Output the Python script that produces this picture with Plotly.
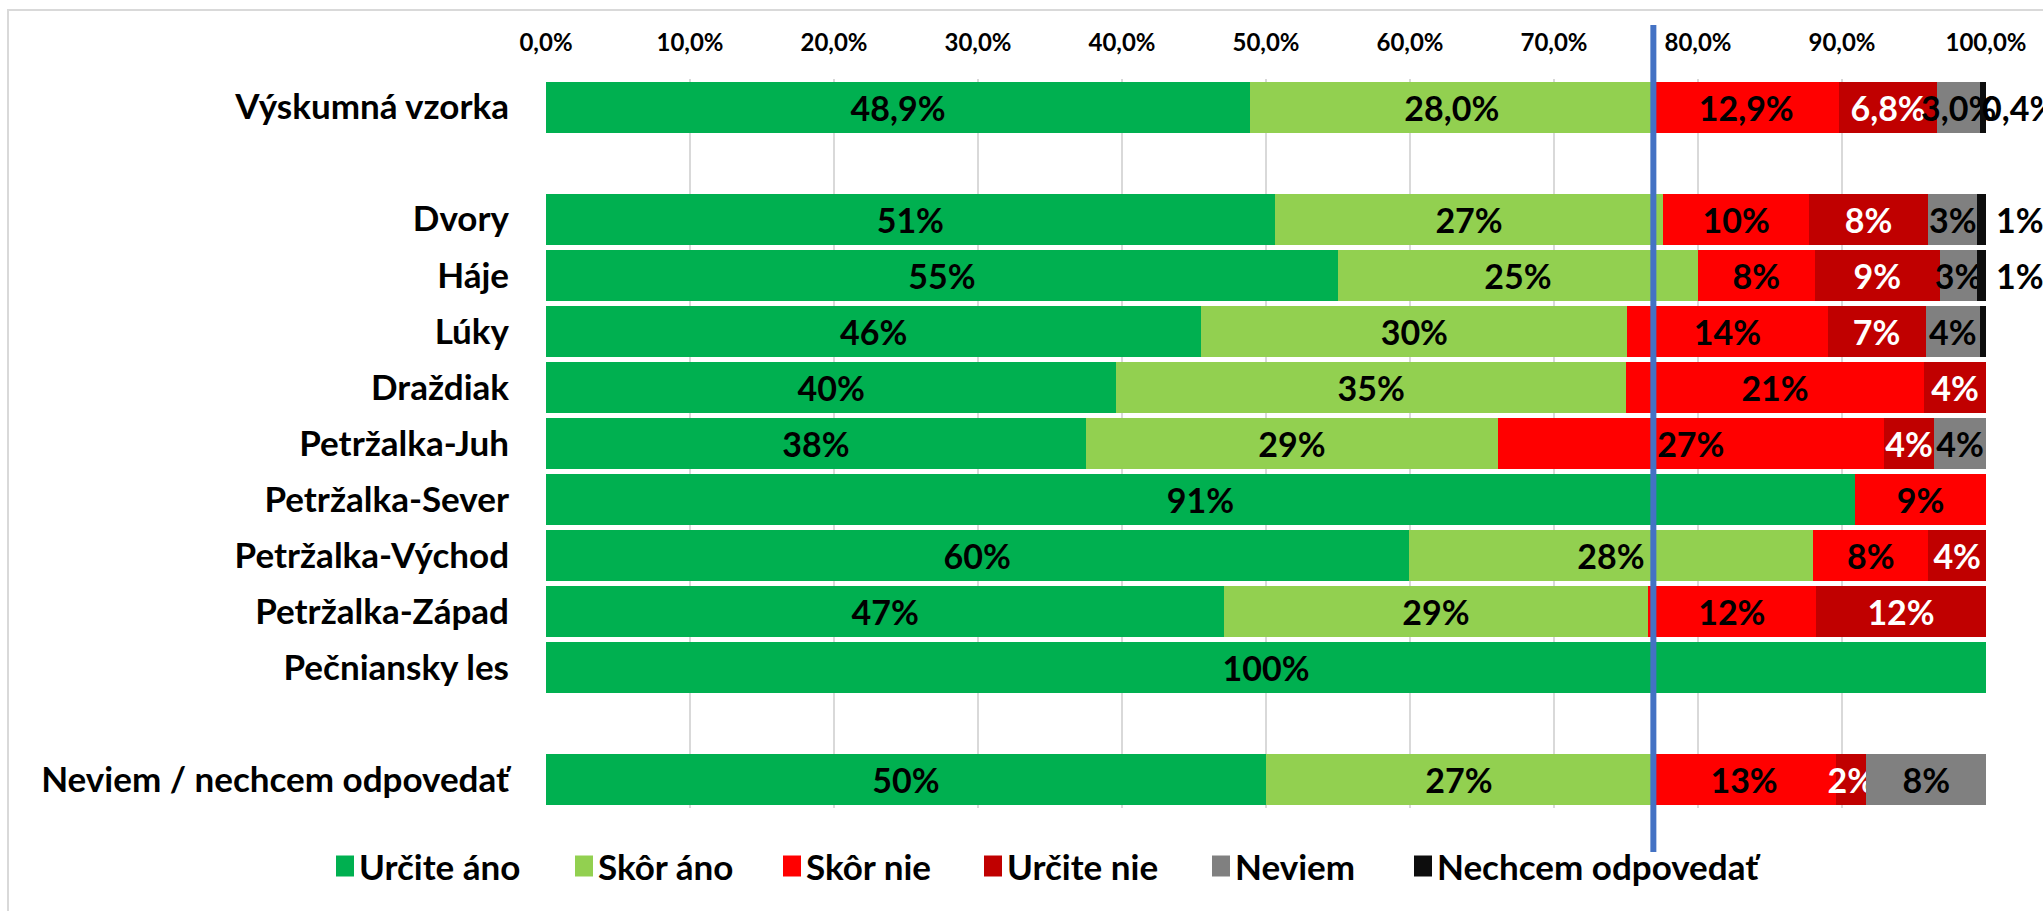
import plotly.graph_objects as go

# Row labels (blank strings leave empty slots between the groups)
categories = [
    "Výskumná vzorka", " ", "Dvory", "Háje", "Lúky", "Draždiak",
    "Petržalka-Juh", "Petržalka-Sever", "Petržalka-Východ", "Petržalka-Západ",
    "Pečniansky les", "  ", "Neviem / nechcem odpovedať",
]

# Shares in percent per answer
urcite_ano = [48.9, None, 50.6, 55.0, 45.5, 39.6, 37.5, 90.9, 59.9, 47.1, 100.0, None, 50.0]
skor_ano = [28.0, None, 27.0, 25.0, 29.6, 35.4, 28.6, 0, 28.1, 29.4, 0, None, 26.8]
skor_nie = [12.9, None, 10.1, 8.1, 13.9, 20.7, 26.8, 9.1, 8.0, 11.7, 0, None, 12.8]
urcite_nie = [6.8, None, 8.3, 8.7, 6.8, 4.3, 3.5, 0, 4.0, 11.8, 0, None, 2.1]
neviem = [3.0, None, 3.4, 2.6, 3.8, 0, 3.6, 0, 0, 0, 0, None, 8.3]
nechcem = [0.4, None, 0.6, 0.6, 0.4, 0, 0, 0, 0, 0, 0, None, 0]

# Decimal places of the value labels per row
decimals = [1, 0, 0, 0, 0, 0, 0, 0, 0, 0, 0, 0, 0]

series_names = ["Určite áno", "Skôr áno", "Skôr nie", "Určite nie", "Neviem", "Nechcem odpovedať"]
series_values = [urcite_ano, skor_ano, skor_nie, urcite_nie, neviem, nechcem]
series_colors = ["#00B050", "#92D050", "#FF0000", "#C00000", "#808080", "#0D0D0D"]
label_colors = ["black", "black", "black", "white", "black", "black"]

tick_values = [0, 10, 20, 30, 40, 50, 60, 70, 80, 90, 100]
tick_labels = ["0,0%", "10,0%", "20,0%", "30,0%", "40,0%", "50,0%",
               "60,0%", "70,0%", "80,0%", "90,0%", "100,0%"]

FONT = "Lato"
LABEL_SIZE = 34

# Page geometry (pixels)
W, H = 2043, 911
L, R, T, B = 546, 57, 79, 103
plot_h = H - T - B
plot_w = W - L - R

# Legend layout: left edge of each key square, in pixels
LEGEND_KEY_X = [336, 575, 783, 984, 1212, 1414]
LEGEND_Y = 866
KEY_W, KEY_H = 18, 21


def py(px):
    return (H - B - px) / plot_h


def px_x(px):
    return (px - L) / plot_w


def fmt(v, d):
    if v is None:
        return ""
    s = f"{v:.{d}f}"
    if float(s) == 0:
        return ""
    return s.replace(".", ",") + "%"


fig = go.Figure()
for idx, (name, vals, col, lcol) in enumerate(zip(series_names, series_values, series_colors, label_colors)):
    last = idx == len(series_names) - 1
    texts = [fmt(v, d) for v, d in zip(vals, decimals)]
    fig.add_trace(go.Bar(
        name=name,
        y=categories,
        x=vals,
        orientation="h",
        marker=dict(color=col, line=dict(width=0)),
        text=None if last else texts,
        textposition="inside",
        insidetextanchor="middle",
        textangle=0,
        constraintext="none",
        cliponaxis=False,
        insidetextfont=dict(family=FONT, size=LABEL_SIZE, color=lcol, weight="bold"),
        hoverinfo="skip",
        showlegend=False,
    ))

# The thin last segment gets its label just past the end of the bar
row_totals = [sum(v[i] or 0 for v in series_values) for i in range(len(categories))]
for i, (cat, v, d) in enumerate(zip(categories, nechcem, decimals)):
    t = fmt(v, d)
    if not t:
        continue
    fig.add_annotation(
        x=row_totals[i], y=cat, xref="x", yref="y",
        text=t, showarrow=False, xanchor="left",
        xshift=-6 if d else 8,
        font=dict(family=FONT, size=LABEL_SIZE, color="black", weight="bold"),
    )

# Legend: coloured key squares with their names
for name, col, kx in zip(series_names, series_colors, LEGEND_KEY_X):
    fig.add_shape(type="rect", xref="paper", yref="paper",
                  x0=px_x(kx), x1=px_x(kx + KEY_W),
                  y0=py(LEGEND_Y + KEY_H / 2), y1=py(LEGEND_Y - KEY_H / 2),
                  line=dict(width=0), fillcolor=col)
    fig.add_annotation(
        x=px_x(kx + KEY_W + 3), y=py(LEGEND_Y), xref="paper", yref="paper",
        text=name, showarrow=False, xanchor="left", yanchor="middle",
        font=dict(family=FONT, size=35, color="black", weight="bold"),
    )

# Reference line at the share of positive answers in the whole sample
positive_share = urcite_ano[0] + skor_ano[0]
fig.add_shape(type="line", xref="x", yref="paper",
              x0=positive_share, x1=positive_share, y0=py(852), y1=py(25),
              line=dict(color="#4472C4", width=6), layer="above")

# Chart-area frame
fig.add_shape(type="rect", xref="paper", yref="paper",
              x0=px_x(8), x1=px_x(2060), y0=py(930), y1=py(10),
              line=dict(color="#D9D9D9", width=2), fillcolor="rgba(0,0,0,0)", layer="below")

fig.update_layout(
    width=W, height=H,
    margin=dict(l=L, r=R, t=T, b=B, pad=0),
    barmode="stack",
    bargap=0.09,
    separators=", ",
    paper_bgcolor="white",
    plot_bgcolor="white",
    font=dict(family=FONT, color="black"),
    showlegend=False,
    xaxis=dict(
        side="top",
        range=[0, 100],
        tickvals=tick_values,
        ticktext=tick_labels,
        tickfont=dict(family=FONT, size=24, color="black", weight="bold"),
        showgrid=True,
        gridcolor="#D9D9D9",
        gridwidth=1.5,
        zeroline=False,
        showline=False,
        ticks="",
        ticklabelstandoff=22,
        fixedrange=True,
    ),
    yaxis=dict(
        type="category",
        categoryorder="array",
        categoryarray=categories,
        autorange="reversed",
        tickfont=dict(family=FONT, size=35, color="black", weight="bold"),
        showgrid=False,
        zeroline=False,
        showline=False,
        ticks="",
        ticklabelstandoff=36,
        fixedrange=True,
    ),
)

fig.write_html("out.html")
